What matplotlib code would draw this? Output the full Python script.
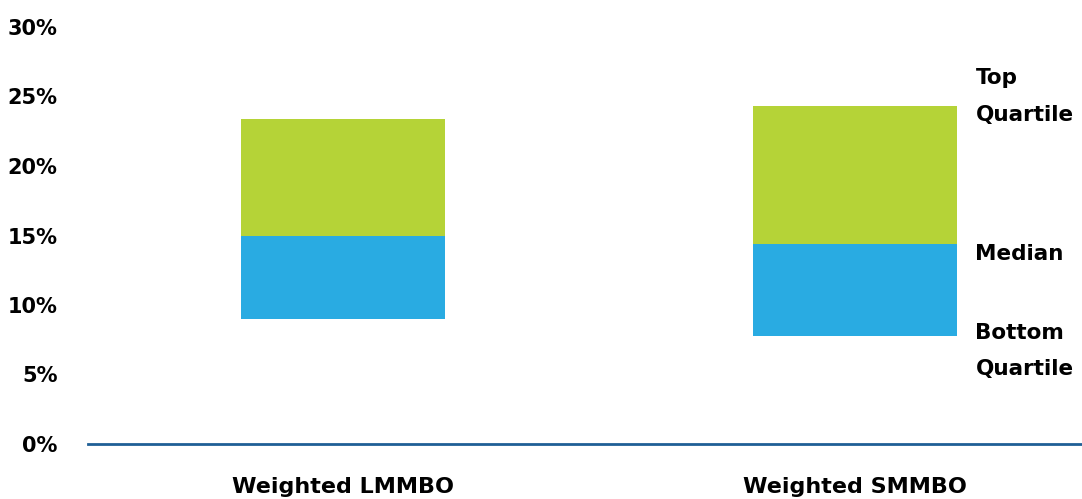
import matplotlib

matplotlib.use("Agg")
from matplotlib import pyplot as plt
from matplotlib.ticker import FuncFormatter

categories = ["Weighted LMMBO", "Weighted SMMBO"]
bottom_quartile = [9.0, 7.8]
median = [15.0, 14.4]
top_quartile = [23.4, 24.3]
y_ticks = [0, 5, 10, 15, 20, 25, 30]
side_labels = ["Top\nQuartile", "Median", "Bottom\nQuartile"]
side_label_y = [25.0, 13.7, 6.7]

GREEN = "#b5d337"
BLUE = "#29abe2"
AXIS_BLUE = "#1f5f96"

plt.rcParams["font.family"] = ["DejaVu Sans"]
plt.rcParams["font.weight"] = "bold"

fig = plt.figure(figsize=(10.82, 4.99), dpi=100)
W, H = 1082, 499
ax = fig.add_axes([88 / W, (H - 444) / H, (1082 - 88) / W, (444 - 27) / H])

x = list(range(len(categories)))
lower = [m - b for m, b in zip(median, bottom_quartile)]
upper = [t - m for t, m in zip(top_quartile, median)]
ax.bar(x, lower, bottom=bottom_quartile, width=0.398, color=BLUE, edgecolor="none")
ax.bar(x, upper, bottom=median, width=0.398, color=GREEN, edgecolor="none")

for label, yv in zip(side_labels, side_label_y):
    ax.text(1.235, yv, label, ha="left", va="center", fontsize=15.5, fontweight="bold",
            linespacing=2.0, color="black")

ax.set_xlim(-0.498, 1.443)
ax.set_ylim(0, 30)
ax.set_yticks(y_ticks)
ax.yaxis.set_major_formatter(FuncFormatter(lambda v, _: f"{v:.0f}%"))
ax.set_xticks(x)
ax.set_xticklabels(categories)
ax.tick_params(axis="both", length=0, labelsize=15)
ax.tick_params(axis="x", labelsize=16)
ax.tick_params(axis="y", pad=22)
ax.tick_params(axis="x", pad=24)
for lbl in ax.get_xticklabels() + ax.get_yticklabels():
    lbl.set_fontweight("bold")

for side in ["top", "right", "left"]:
    ax.spines[side].set_visible(False)
ax.spines["bottom"].set_color(AXIS_BLUE)
ax.spines["bottom"].set_linewidth(2)

fig.savefig("out.png", dpi=100)
